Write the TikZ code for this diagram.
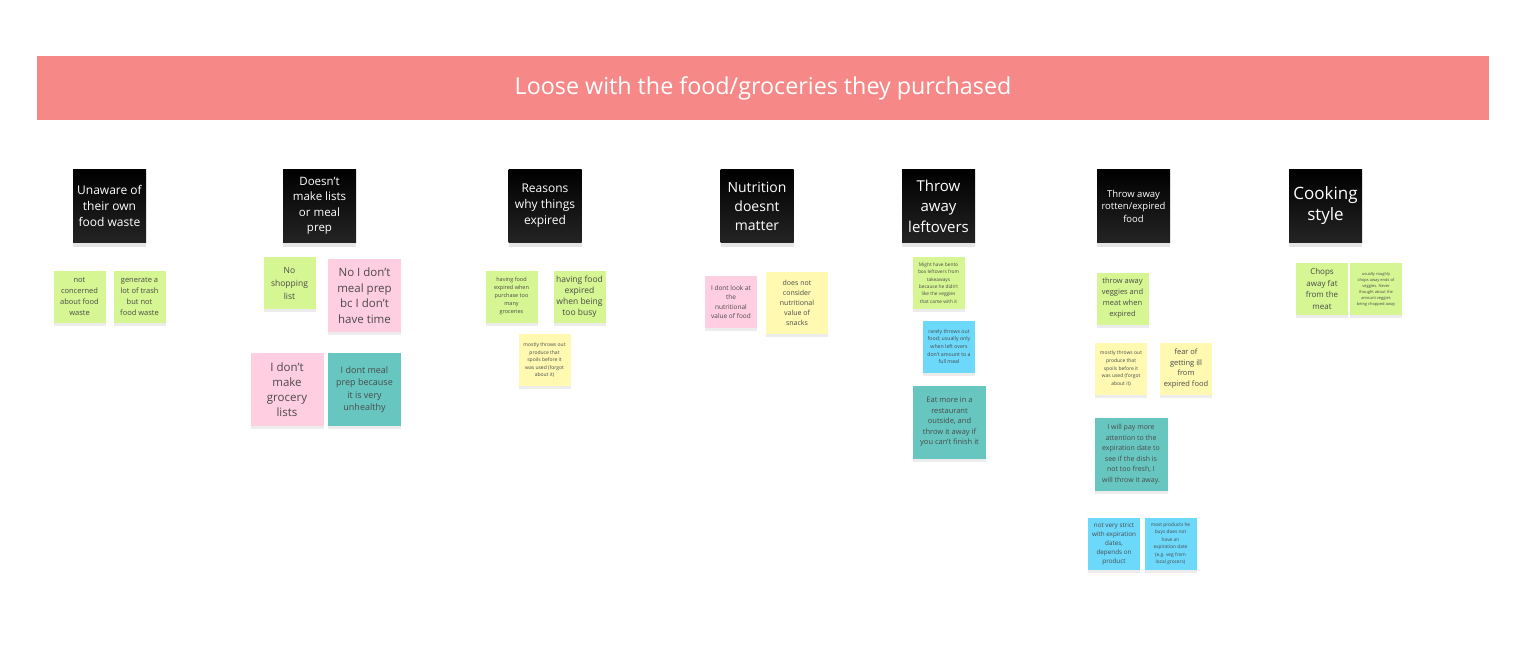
\documentclass[tikz,border=0pt]{standalone}
\usepackage{fontspec}
\setmainfont{Open Sans}
\usepackage{tikz}
\usetikzlibrary{shadows}
\definecolor{bannerred}{HTML}{F68888}
\definecolor{notegreen}{HTML}{D5F692}
\definecolor{notepink}{HTML}{FFCEE0}
\definecolor{noteteal}{HTML}{67C6C0}
\definecolor{noteyellow}{HTML}{FFF9B1}
\definecolor{noteblue}{HTML}{6CD8FA}
\definecolor{notetext}{HTML}{4A4A4A}
\tikzset{
    txt/.style 2 args={font=\fontsize{#1}{#2}\selectfont},
    banner/.style={fill=bannerred, text=white, minimum width=1452pt, minimum height=64pt, inner sep=0pt},
    topic/.style={top color=black, bottom color=black!86, text=white, align=center,
        minimum size=73pt, inner sep=0pt,
        drop shadow={shadow xshift=0pt, shadow yshift=-4pt, opacity=0.2}},
    note/.style={align=center, text=notetext, minimum size=52pt, inner sep=0pt,
        drop shadow={shadow xshift=0pt, shadow yshift=-3pt, opacity=0.15}},
    big/.style={minimum size=73pt},
    sgreen/.style={note, fill=notegreen},
    spink/.style={note, fill=notepink},
    steal/.style={note, fill=noteteal},
    syellow/.style={note, fill=noteyellow},
    sblue/.style={note, fill=noteblue}
}
\begin{document}
\begin{tikzpicture}[x=1pt, y=-1pt]
    \useasboundingbox[fill=white] (0,0) rectangle (1521,657);

    % Banner
    \node[banner, txt={23.3}{27}] (banner) at (763,88) {Loose with the food/groceries they purchased};

    % Topic headers
    \node[topic, txt={12}{16}]    (t1) at (109.5,206) {Unaware of\\their own\\food waste};
    \node[topic, txt={11.5}{15.5}] (t2) at (319.5,206) {Doesn't\\make lists\\or meal\\prep};
    \node[topic, txt={12}{16}]    (t3) at (545,206) {Reasons\\why things\\expired};
    \node[topic, txt={14}{19}]    (t4) at (757,206) {Nutrition\\doesnt\\matter};
    \node[topic, txt={15}{20.5}]  (t5) at (938.5,206) {Throw\\away\\leftovers};
    \node[topic, txt={9.5}{12.5}] (t6) at (1133.5,206) {Throw away\\rotten/expired\\food};
    \node[topic, txt={17}{21}]    (t7) at (1325.5,206) {Cooking\\style};

    % Unaware of their own food waste
    \node[sgreen, txt={7.5}{11}] (c1a) at (79.5,296.5) {not\\concerned\\about food\\waste};
    \node[sgreen, txt={7.5}{11}] (c1b) at (139.5,296.5) {generate a\\lot of trash\\but not\\food waste};

    % Doesn't make lists or meal prep
    \node[sgreen, txt={8.5}{13}] (c2a) at (289.5,283) {No\\shopping\\list};
    \node[spink, big, txt={11.5}{15.5}] (c2b) at (364.5,295.5) {No I don't\\meal prep\\bc I don't\\have time};
    \node[spink, big, txt={11.5}{15}] (c2c) at (287,389.5) {I don't\\make\\grocery\\lists};
    \node[steal, big, txt={9}{12.5}] (c2d) at (364.5,389.5) {I dont meal\\prep because\\it is very\\unhealthy};

    % Reasons why things expired
    \node[sgreen, txt={5.5}{8}] (c3a) at (511.5,296.5) {having food\\expired when\\purchase too\\many\\groceries};
    \node[sgreen, txt={8.5}{11}] (c3b) at (579.5,296.5) {having food\\expired\\when being\\too busy};
    \node[syellow, txt={5}{7.5}] (c3c) at (544.5,360) {mostly throws out\\produce that\\spoils before it\\was used (forgot\\about it)};

    % Nutrition doesnt matter
    \node[spink, txt={6.5}{9.5}] (c4a) at (731,302) {I dont look at\\the\\nutritional\\value of food};
    \node[syellow, minimum size=62pt, txt={7}{10}] (c4b) at (797,302.5) {does not\\consider\\nutritional\\value of\\snacks};

    % Throw away leftovers
    \node[sgreen, txt={4.8}{7.3}] (c5a) at (938.5,283) {Might have bento\\box leftovers from\\takeaways\\because he didn't\\like the veggies\\that came with it};
    \node[sblue, txt={5.2}{7.7}] (c5b) at (949,346.5) {rarely throws out\\food; usually only\\when left overs\\don't amount to a\\full meal};
    \node[steal, big, txt={7.5}{10.5}] (c5c) at (949.5,422) {Eat more in a\\restaurant\\outside, and\\throw it away if\\you can't finish it};

    % Throw away rotten/expired food
    \node[sgreen, txt={7.5}{11}] (c6a) at (1122.5,298.5) {throw away\\veggies and\\meat when\\expired};
    \node[syellow, txt={5}{7.7}] (c6b) at (1121,368.5) {mostly throws out\\produce that\\spoils before it\\was used (forgot\\about it)};
    \node[syellow, txt={7.5}{10.5}] (c6c) at (1186,368.5) {fear of\\getting ill\\from\\expired food};
    \node[steal, big, txt={7}{10.5}] (c6d) at (1131,454) {I will pay more\\attention to the\\expiration date to\\see if the dish is\\not too fresh, I\\will throw it away.};
    \node[sblue, txt={6.3}{9}] (c6e) at (1114,543.5) {not very strict\\with expiration\\dates,\\depends on\\product};
    \node[sblue, txt={4.8}{7.5}] (c6f) at (1170.5,543.5) {most products he\\buys does not\\have an\\expiration date\\(e.g. veg from\\local grocers)};

    % Cooking style
    \node[sgreen, txt={8}{11.5}] (c7a) at (1322,289) {Chops\\away fat\\from the\\meat};
    \node[sgreen, txt={4}{6}] (c7b) at (1376,289) {usually roughly\\chops away ends of\\veggies. Never\\thought about the\\amount veggies\\being chopped away};
\end{tikzpicture}
\end{document}
